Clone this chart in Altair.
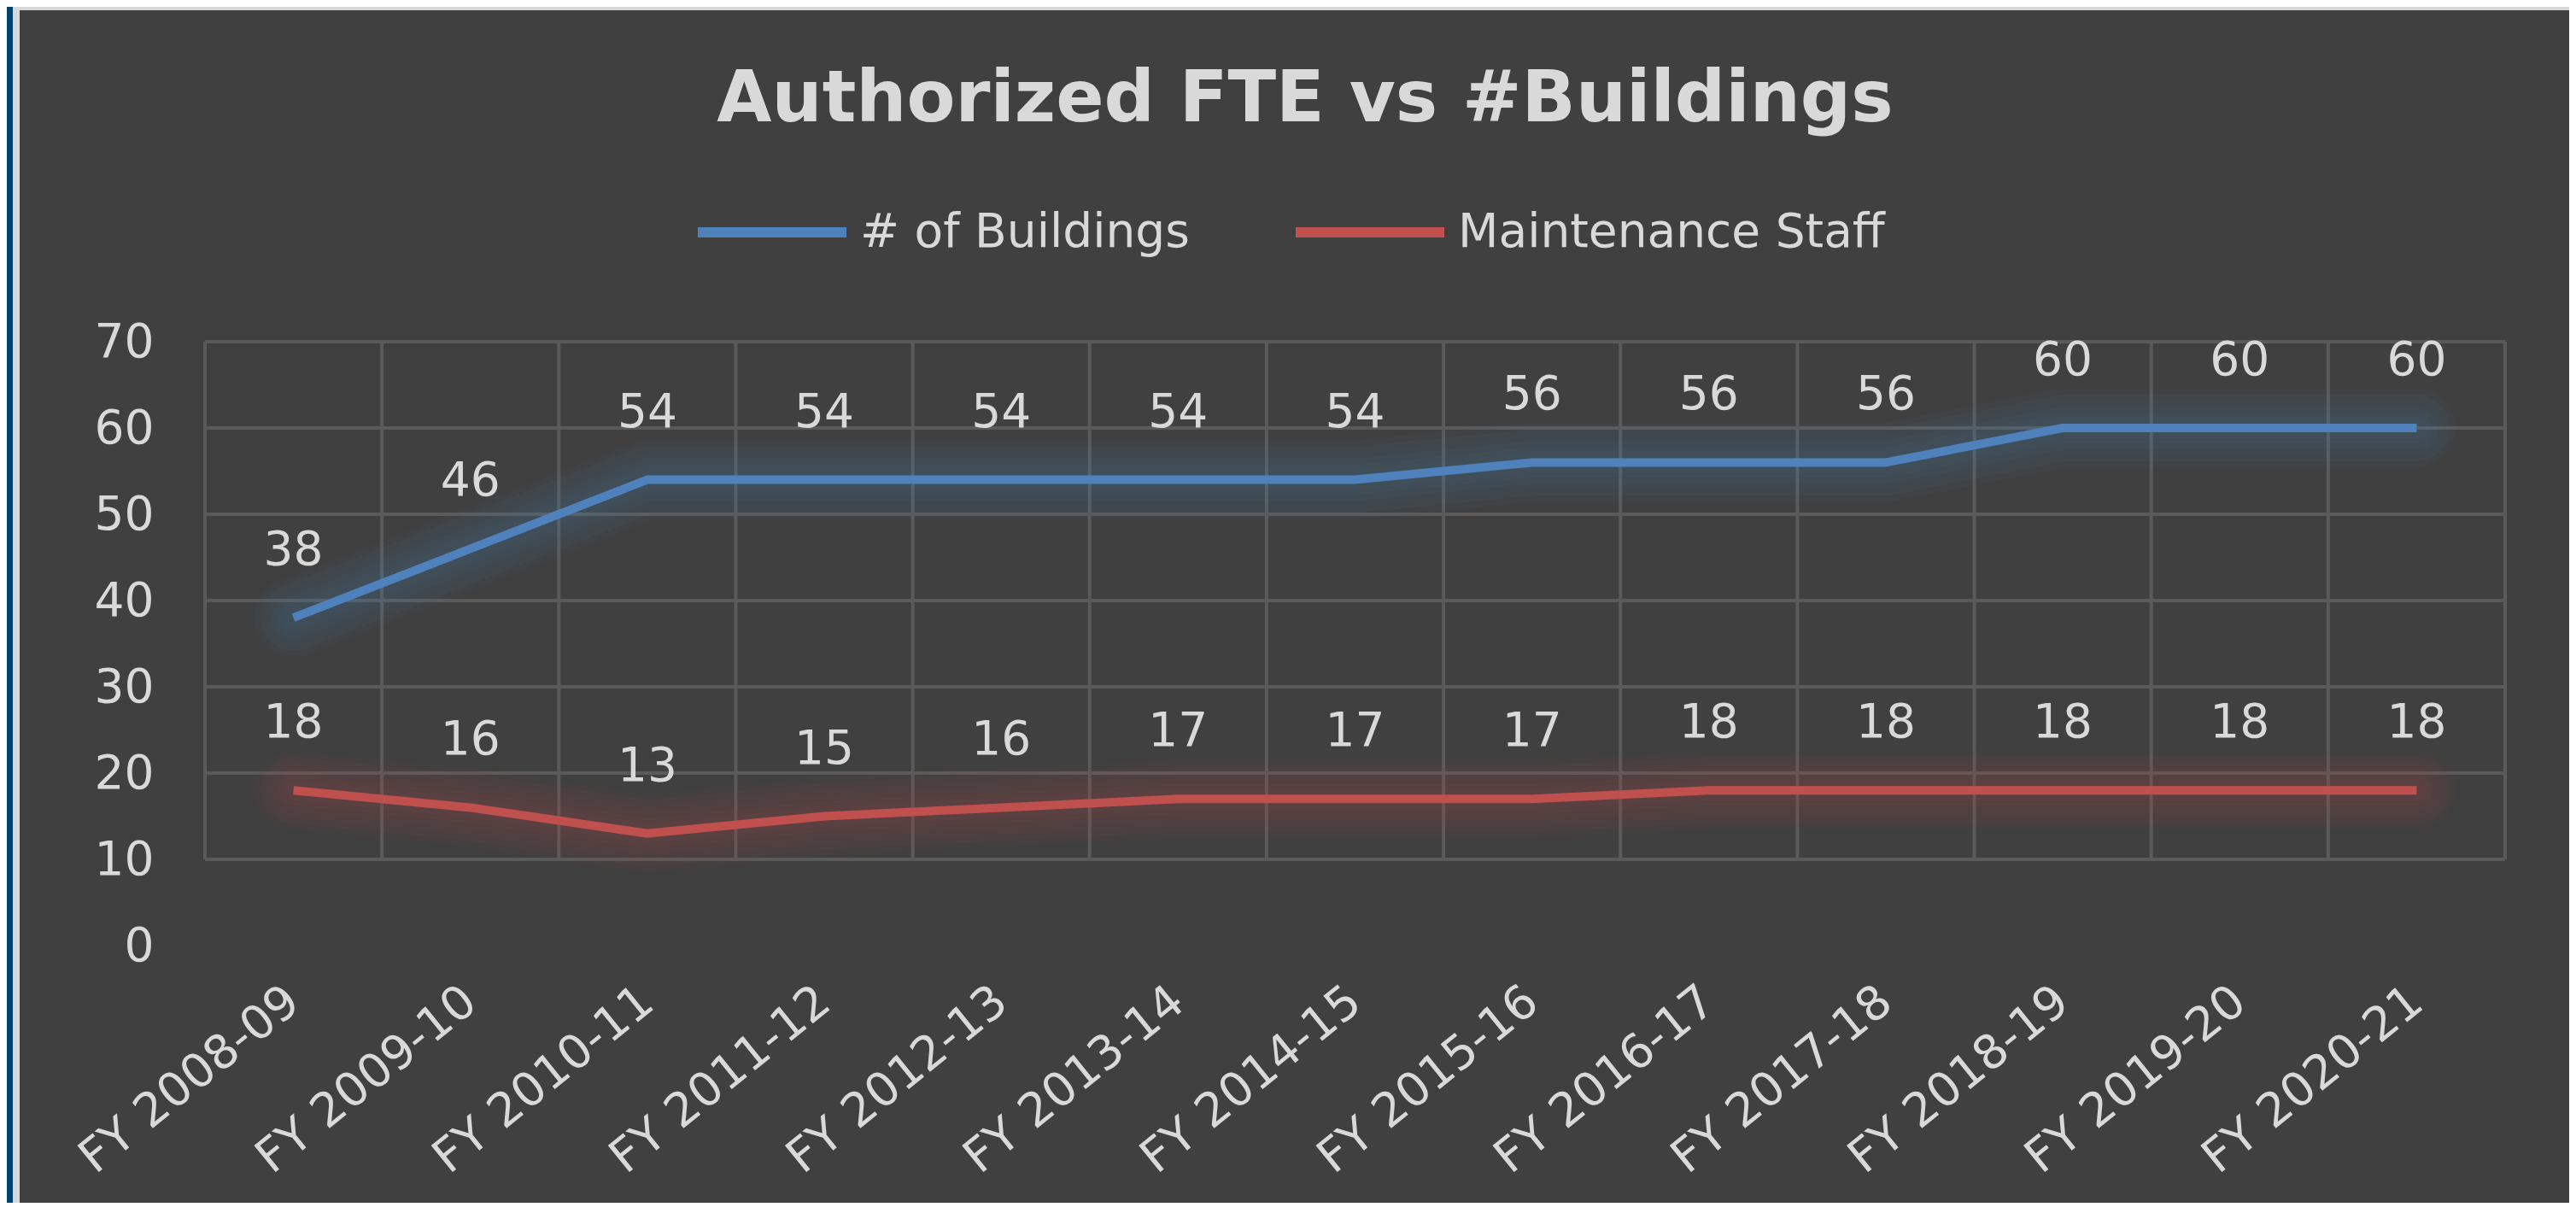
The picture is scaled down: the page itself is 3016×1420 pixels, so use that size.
import altair as alt
import pandas as pd

categories = ["FY 2008-09", "FY 2009-10", "FY 2010-11", "FY 2011-12", "FY 2012-13",
              "FY 2013-14", "FY 2014-15", "FY 2015-16", "FY 2016-17", "FY 2017-18",
              "FY 2018-19", "FY 2019-20", "FY 2020-21"]
buildings = [38, 46, 54, 54, 54, 54, 54, 56, 56, 56, 60, 60, 60]
staff = [18, 16, 13, 15, 16, 17, 17, 17, 18, 18, 18, 18, 18]
series_names = ["# of Buildings", "Maintenance Staff"]
series_colors = ["#4f81bd", "#c0504d"]
y_ticks = [0, 10, 20, 30, 40, 50, 60, 70]

rows = []
for c, b, s in zip(categories, buildings, staff):
    rows.append({"cat": c, "series": series_names[0], "value": b})
    rows.append({"cat": c, "series": series_names[1], "value": s})
df = pd.DataFrame(rows)

BG = "#404040"
GRID = "#5a5a5a"
TXT = "#d9d9d9"
NAVY = "#00426e"
EDGE = "#d9d9d9"

xscale = alt.Scale(type="band", domain=categories, paddingInner=0, paddingOuter=0)
yscale = alt.Scale(domain=[0, 70], nice=False, zero=True)
cscale = alt.Scale(domain=series_names, range=series_colors)

yaxis = alt.Axis(values=y_ticks, grid=False, ticks=False, domain=False,
                 labelPadding=60, labelFontSize=55, labelFont="DejaVu Sans",
                 labelColor=TXT, title=None)
xaxis = alt.Axis(title=None, ticks=False, domain=False, grid=False,
                 labelAngle=-39, labelAlign="right", labelBaseline="middle",
                 labelPadding=58, labelFontSize=55, labelFont="DejaVu Sans",
                 labelColor=TXT, labelLimit=0, bandPosition=0.5)
legend = alt.Legend(title=None, orient="none", legendX=571, legendY=-221,
                    direction="horizontal", symbolType="stroke",
                    symbolSize=30276, symbolStrokeWidth=12, symbolOpacity=1,
                    labelFontSize=55, labelFont="DejaVu Sans",
                    labelColor=TXT, labelOffset=10, columnPadding=100,
                    labelLimit=0, padding=0)

# decorative frame strips (left and top edges of the picture)
frame_navy = alt.Chart(pd.DataFrame({"k": [0]})).mark_rect(color=NAVY).encode(
    x=alt.value(-232), x2=alt.value(-225), y=alt.value(-392), y2=alt.value(1008))
frame_left = alt.Chart(pd.DataFrame({"k": [0]})).mark_rect(color=EDGE).encode(
    x=alt.value(-225), x2=alt.value(-217), y=alt.value(-392), y2=alt.value(1008))
frame_top = alt.Chart(pd.DataFrame({"k": [0]})).mark_rect(color=EDGE).encode(
    x=alt.value(-225), x2=alt.value(2768), y=alt.value(-392), y2=alt.value(-388))

# horizontal grid lines (10..70)
hgrid = alt.Chart(pd.DataFrame({"v": [t for t in y_ticks if t > 0]})).mark_rule(
    color=GRID, strokeWidth=4
).encode(
    y=alt.Y("v:Q", scale=yscale, axis=yaxis)
)

# vertical grid lines at category boundaries
vgrid = alt.Chart(pd.DataFrame({"cat": categories})).mark_rule(
    color=GRID, strokeWidth=4
).encode(
    x=alt.X("cat:N", scale=xscale, bandPosition=0, sort=categories, axis=xaxis),
    y=alt.Y("lo:Q", scale=yscale, axis=yaxis),
    y2="hi:Q",
).transform_calculate(lo="10", hi="70")
vgrid_end = alt.Chart(pd.DataFrame({"cat": categories[-1:]})).mark_rule(
    color=GRID, strokeWidth=4
).encode(
    x=alt.X("cat:N", scale=xscale, bandPosition=1, sort=categories, axis=xaxis),
    y=alt.Y("lo:Q", scale=yscale, axis=yaxis),
    y2="hi:Q",
).transform_calculate(lo="10", hi="70")

def glow(width, opacity):
    return alt.Chart(df).mark_line(strokeWidth=width, opacity=opacity,
                                   strokeJoin="round", strokeCap="round").encode(
        x=alt.X("cat:N", scale=xscale, bandPosition=0.5, sort=categories, axis=xaxis),
        y=alt.Y("value:Q", scale=yscale, axis=yaxis),
        color=alt.Color("series:N", scale=cscale, legend=legend),
        detail="series:N",
    )

glows = [glow(w, 0.045) for w in (92, 78, 64, 50, 36, 24)]

lines = alt.Chart(df).mark_line(strokeWidth=10, strokeJoin="round", strokeCap="butt").encode(
    x=alt.X("cat:N", scale=xscale, bandPosition=0.5, sort=categories, axis=xaxis),
    y=alt.Y("value:Q", scale=yscale, axis=yaxis),
    color=alt.Color("series:N", scale=cscale, legend=legend),
)

labels = alt.Chart(df).mark_text(dy=-79, fontSize=55, font="DejaVu Sans", color=TXT,
                                 baseline="middle", align="center").encode(
    x=alt.X("cat:N", scale=xscale, bandPosition=0.5, sort=categories, axis=xaxis),
    y=alt.Y("value:Q", scale=yscale, axis=yaxis),
    text=alt.Text("value:Q"),
)

chart = alt.layer(frame_navy, frame_left, frame_top, hgrid, vgrid, vgrid_end,
                  *glows, lines, labels).properties(
    width=2693, height=707,
    padding={"left": 232, "top": 392, "right": 75, "bottom": 301},
    autosize=alt.AutoSizeParams(type="none"),
    background=BG,
    title=alt.TitleParams("Authorized FTE vs #Buildings", fontSize=83, font="DejaVu Sans",
                          fontWeight="bold", color=TXT, anchor="middle", frame="bounds",
                          baseline="alphabetic", offset=0, dy=217, dx=20),
).configure_view(stroke=None).resolve_scale(color="shared")

chart.save("out.html", embed_options={"renderer": "svg", "actions": False})
